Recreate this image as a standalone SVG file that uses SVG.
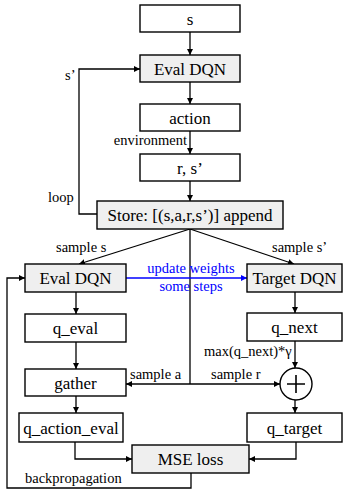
<svg xmlns="http://www.w3.org/2000/svg" width="343" height="495" viewBox="0 0 343 495">
<defs>
<marker id="ah" viewBox="0 0 10 10" refX="10" refY="5" markerWidth="6" markerHeight="6" orient="auto" markerUnits="userSpaceOnUse"><path d="M0,0 L10,5 L0,10 z" fill="#000"/></marker>
<marker id="ahb" viewBox="0 0 10 10" refX="10" refY="5" markerWidth="6" markerHeight="6" orient="auto" markerUnits="userSpaceOnUse"><path d="M0,0 L10,5 L0,10 z" fill="#0000ff"/></marker>
<style>
.b{fill:#fff;stroke:#000;stroke-width:1.4}
.g{fill:#efefef;stroke:#000;stroke-width:1.4}
.t{font-size:17px;text-anchor:middle;fill:#000}
.s{font-size:14.5px;fill:#000}
.c{fill:none;stroke:#000;stroke-width:1.3}
.a{marker-end:url(#ah)}
</style>
</defs>
<rect width="343" height="495" fill="#fff"/>
<g font-family="Liberation Serif, Times New Roman, DejaVu Serif, serif">
<g id="connectors">
<path class="c a" d="M190,32 V55"/>
<path class="c a" d="M190,82 V104"/>
<path class="c a" d="M190,131 V154"/>
<path class="c a" d="M190,181 V201"/>
<path class="c a" d="M97,214 H79 V69 H140"/>
<path class="c a" d="M190,229 L79,264"/>
<path class="c a" d="M190,229 L294,264"/>
<path class="c" d="M190,229 V384"/>
<path class="c a" d="M190,384 H126"/>
<path class="c a" d="M190,384 H280"/>
<path d="M126,278 H247" fill="none" stroke="#0000ff" stroke-width="1.3" marker-end="url(#ahb)"/>
<path class="c a" d="M76,292 V314"/>
<path class="c a" d="M295,292 V313"/>
<path class="c a" d="M76,342 V369"/>
<path class="c a" d="M76,396 V413"/>
<path class="c a" d="M295,341 V368"/>
<path class="c a" d="M295,400 V413"/>
<path class="c a" d="M75,442 V459 H132"/>
<path class="c a" d="M296,442 V459 H249"/>
<path class="c a" d="M191,473 V488 H7 V278 H25"/>
<text class="s" x="65" y="80">s’</text>
<text class="s" x="187" y="145" text-anchor="end">environment</text>
<text class="s" x="48" y="202">loop</text>
<text class="s" x="56" y="252">sample s</text>
<text class="s" x="272" y="252">sample s’</text>
<text class="s" x="191" y="273" text-anchor="middle" style="fill:#0000ff">update weights</text>
<text class="s" x="191" y="291" text-anchor="middle" style="fill:#0000ff">some steps</text>
<text class="s" x="204" y="356">max(q_next)*γ</text>
<text class="s" x="130" y="379">sample a</text>
<text class="s" x="211" y="379">sample r</text>
<text class="s" x="25" y="483">backpropagation</text>
</g>
<g id="n_s"><rect class="b" x="140" y="5" width="100" height="27"/><text class="t" x="190" y="24.5">s</text></g>
<g id="n_eval_top"><rect class="g" x="140" y="55" width="100" height="27"/><text class="t" x="190" y="74.5">Eval DQN</text></g>
<g id="n_action"><rect class="b" x="140" y="104" width="100" height="27"/><text class="t" x="190" y="123.5">action</text></g>
<g id="n_rs"><rect class="b" x="140" y="154" width="100" height="27"/><text class="t" x="190" y="173.5">r, s’</text></g>
<g id="n_store"><rect class="g" x="97" y="201" width="186" height="28"/><text class="t" x="190" y="221">Store: [(s,a,r,s’)] append</text></g>
<g id="n_eval"><rect class="g" x="25" y="264" width="101" height="28"/><text class="t" x="75.5" y="284">Eval DQN</text></g>
<g id="n_target"><rect class="g" x="247" y="264" width="95" height="28"/><text class="t" x="294.5" y="284">Target DQN</text></g>
<g id="n_qeval"><rect class="b" x="25" y="314" width="101" height="28"/><text class="t" x="75.5" y="334">q_eval</text></g>
<g id="n_qnext"><rect class="b" x="247" y="313" width="95" height="28"/><text class="t" x="294.5" y="333">q_next</text></g>
<g id="n_gather"><rect class="b" x="25" y="369" width="101" height="27"/><text class="t" x="75.5" y="388.5">gather</text></g>
<g id="n_plus"><circle cx="296" cy="384" r="16" fill="#fff" stroke="#000" stroke-width="1.4"/><path d="M287,384 H305 M296,375 V393" stroke="#000" stroke-width="1.6"/></g>
<g id="n_qae"><rect class="b" x="19" y="413" width="104" height="29"/><text class="t" x="71" y="433.5">q_action_eval</text></g>
<g id="n_qtarget"><rect class="b" x="247" y="413" width="95" height="29"/><text class="t" x="294.5" y="433.5">q_target</text></g>
<g id="n_mse"><rect class="g" x="132" y="445" width="117" height="28"/><text class="t" x="190.5" y="465">MSE loss</text></g>
</g>
</svg>
